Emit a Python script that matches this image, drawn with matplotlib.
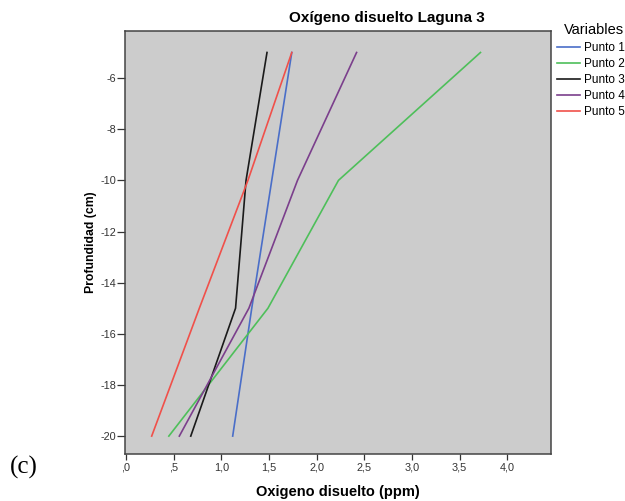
import matplotlib
matplotlib.use("Agg")
import matplotlib.pyplot as plt
from matplotlib.ticker import FuncFormatter

plt.rcParams['font.family'] = ['Liberation Sans', 'DejaVu Sans']
plt.rcParams['axes.unicode_minus'] = False

depth = [-5, -10, -15, -20]
punto1 = [1.74, 1.53, 1.32, 1.12]
punto2 = [3.72, 2.23, 1.49, 0.45]
punto3 = [1.48, 1.26, 1.15, 0.68]
punto4 = [2.42, 1.80, 1.29, 0.56]
punto5 = [1.74, 1.28, 0.77, 0.27]
series_names = ["Punto 1", "Punto 2", "Punto 3", "Punto 4", "Punto 5"]
colors = ["#4a6ec8", "#4ebf5a", "#1a1a1a", "#7b3f8c", "#f0504a"]
xticks = [0, 0.5, 1, 1.5, 2, 2.5, 3, 3.5, 4]
yticks = [-6, -8, -10, -12, -14, -16, -18, -20]

fig = plt.figure(figsize=(6.25, 5.01), dpi=100)
ax = fig.add_axes([125/625, 1 - 454/501, (551-125)/625, (454-31)/501])
ax.set_facecolor("#cccccc")

for vals, name, c in zip([punto1, punto2, punto3, punto4, punto5], series_names, colors):
    ax.plot(vals, depth, color=c, lw=1.2, label=name)

ax.set_xlim(-0.01, 4.46)
ax.set_ylim(-20.7, -4.16)
ax.set_xticks(xticks)
ax.set_yticks(yticks)

def xfmt(v, pos):
    s = f"{v:.1f}".replace(".", ",")
    if s.startswith("0,"):
        s = s[1:]
    return s
ax.xaxis.set_major_formatter(FuncFormatter(xfmt))
ax.tick_params(axis="x", labelsize=7.8, colors="#333333", length=4, width=0.9, pad=2)
ax.tick_params(axis="y", labelsize=7.8, colors="#333333", length=5.5, width=0.9, pad=1)
for sp in ax.spines.values():
    sp.set_color("#444444")
    sp.set_linewidth(1.1)

ax.set_xlabel("Oxigeno disuelto (ppm)", fontsize=10.5, fontweight="bold", labelpad=9)
ax.set_ylabel("Profundidad (cm)", fontsize=8.8, fontweight="bold", labelpad=2)

fig.text(387/625, 1 - 18/501, "Oxígeno disuelto Laguna 3", ha="center", va="center",
         fontsize=11, fontweight="bold")

leg = fig.legend(loc="upper right", bbox_to_anchor=(1.0, 1 - 22/501), frameon=False,
                 title="Variables", fontsize=8.5, title_fontsize=10.5, handlelength=1.95,
                 handletextpad=0.3, labelspacing=0.34, borderaxespad=0, borderpad=0.05)
leg._legend_box.align = "right"
leg._legend_box.sep = 4

fig.text(10/625, 1 - 467/501, "(c)", family="Liberation Serif", fontsize=18,
         ha="left", va="center")

fig.savefig("out.png", dpi=100)
